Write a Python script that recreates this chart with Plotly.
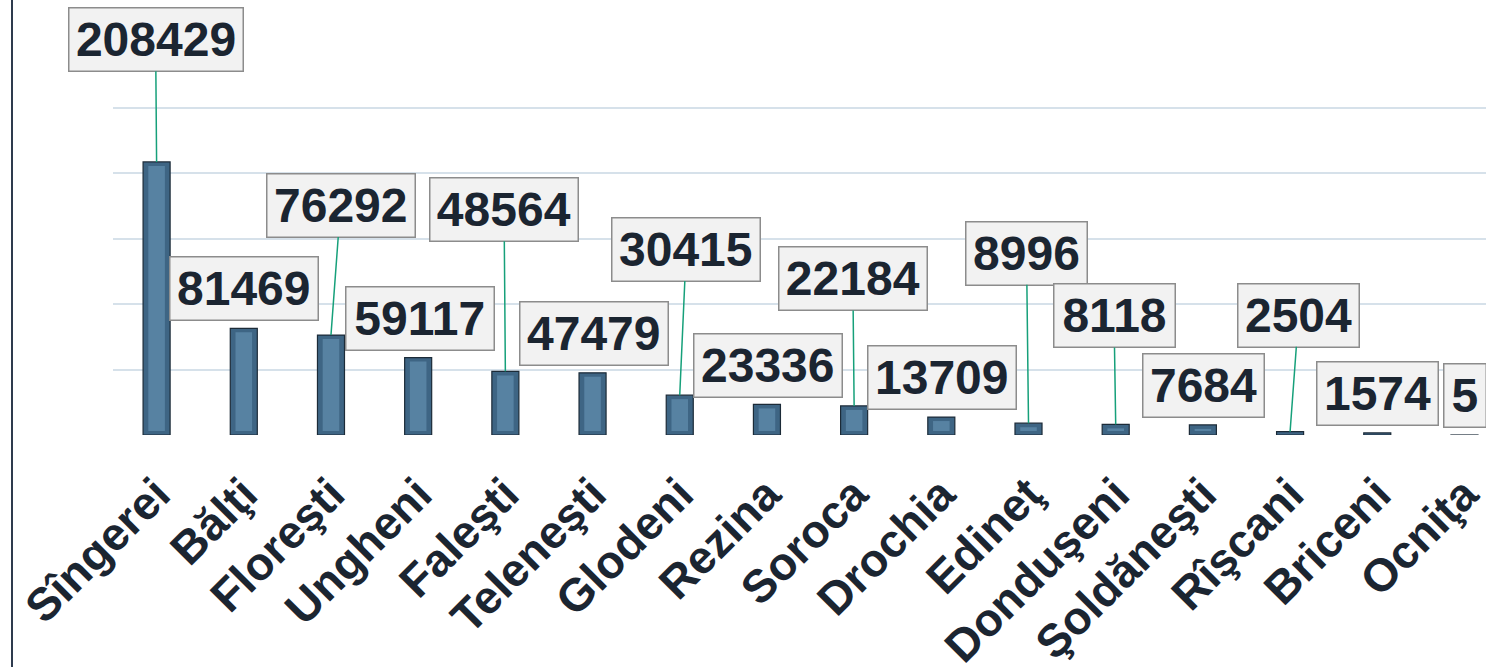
import plotly.graph_objects as go

# ---- data ----
districts = ["Sîngerei", "Bălţi", "Floreşti", "Ungheni", "Faleşti", "Teleneşti",
             "Glodeni", "Rezina", "Soroca", "Drochia", "Edineţ", "Donduşeni",
             "Şoldăneşti", "Rîşcani", "Briceni", "Ocniţa"]
values = [208429, 81469, 76292, 59117, 48564, 47479, 30415, 23336,
          22184, 13709, 8996, 8118, 7684, 2504, 1574, 5]
y_ticks = [0, 50000, 100000, 150000, 200000, 250000]

# ---- label placement (pixel offsets from bar top) ----
label_dx = [-1, 0, 9.6, 1.4, -1.3, 1.2, 6.5, 0.9, -1.3, 1, -2, -1.7, 0.9, 8.6, 0.7, 0.5]
label_dy = [-122.5, -39.3, -129.8, -39.1, -161.9, -39.1, -146, -39.4, -127.2, -39.3,
            -170.2, -108.7, -39.2, -116.7, -39.1, -39.5]
leader = [True, False, True, False, True, False, True, False, True, False,
          True, True, False, True, False, False]

Y_MAX = 332061
PLOT_H = 435
inset = 4 * Y_MAX / PLOT_H
FONT = "Liberation Sans, Arial, sans-serif"

fig = go.Figure()
fig.add_trace(go.Bar(
    x=districts, y=values, width=0.31,
    marker=dict(color="#3e6584", line=dict(color="#1c2b38", width=1.2)),
    hoverinfo="skip"))
inner = [max(v - 2 * inset, 0) for v in values]
fig.add_trace(go.Bar(
    x=districts, y=inner, base=[inset] * len(values), width=0.19,
    marker=dict(color="#5782a2", line=dict(width=0)),
    hoverinfo="skip"))

for i, (d, v) in enumerate(zip(districts, values)):
    txt = str(v)
    fig.add_annotation(
        x=d, y=v, xref="x", yref="y", text=f"<b>{txt}</b>",
        showarrow=True, arrowhead=0, arrowwidth=1.5, standoff=0,
        arrowcolor="#16a07a" if leader[i] else "rgba(0,0,0,0)",
        ax=label_dx[i], ay=label_dy[i],
        width=len(txt) * 26.5 + 8, height=56,
        font=dict(family=FONT, size=48, color="#1b2531"),
        bgcolor="#f2f2f2", bordercolor="#8c8c8c", borderwidth=1.5, borderpad=3,
        align="center", valign="middle")

# left border line
fig.add_shape(type="line", xref="paper", yref="paper",
              x0=(12 - 113) / 1373, x1=(12 - 113) / 1373, y0=-232 / 435, y1=1,
              line=dict(color="#2e3b4e", width=2))

fig.update_layout(
    width=1486, height=667,
    margin=dict(l=113, r=0, t=0, b=232, autoexpand=False),
    paper_bgcolor="white", plot_bgcolor="white",
    barmode="overlay", showlegend=False,
    xaxis=dict(range=[-0.5, 15.247], tickangle=-45, showgrid=False, showline=False,
               zeroline=False, ticks="", ticklabelstandoff=22, automargin=False,
               tickfont=dict(family=FONT, size=46, color="#1b2531", weight="bold")),
    yaxis=dict(range=[0, Y_MAX], tickvals=y_ticks, showticklabels=False,
               showgrid=True, gridcolor="#d6e1ea", gridwidth=2, zeroline=False,
               showline=False, automargin=False),
)

fig.write_html("out.html", config={"displayModeBar": False},
               post_script="document.body.style.margin='0';document.body.style.overflow='hidden';")
